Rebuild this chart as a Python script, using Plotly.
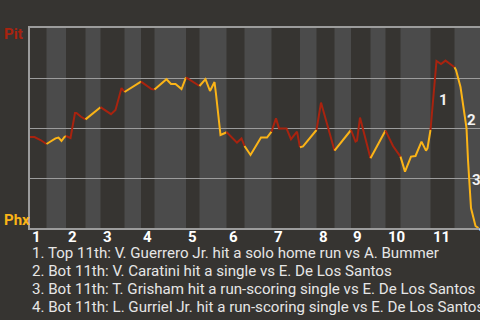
import plotly.graph_objects as go

# Pittsburgh win probability (%) after each pitch of the game
pitch = [0, 3, 7, 11, 17, 19, 21, 23, 24, 27, 30, 31, 34, 37, 42, 47, 54, 57, 61, 63,
         74, 81, 83, 91, 94, 97, 101, 104, 113, 117, 120, 123, 124, 126, 127, 130, 131,
         138, 141, 143, 147, 151, 154, 158, 161, 164, 166, 171, 174, 178, 180, 182, 191,
         194, 203, 214, 217, 218, 220, 227, 237, 242, 247, 248, 250, 254, 257, 261, 264,
         265, 267, 271, 274, 277, 281, 283, 284, 287, 289, 291, 292, 293, 294, 297, 299]
pit_wp = [45.5, 45.5, 44, 42, 44.8, 45.2, 43.5, 45.5, 46, 45, 57.5, 57.5, 55.6, 54.3, 57.3,
          60.4, 56.9, 59, 70, 68, 73.2, 69.5, 69.3, 74.4, 72, 72, 69.5, 75.3, 71, 74.4, 68.5,
          73, 67, 52.5, 46.5, 47.5, 48, 42.7, 44.8, 41, 36.5, 41.5, 45.2, 45.2, 48.2, 54.8,
          49.8, 49.8, 44.4, 48.2, 40.4, 40.8, 49, 62.7, 38.7, 49, 43.2, 43.7, 55.2, 34.9,
          48.7, 41, 35.7, 33.2, 28.2, 35.7, 36, 43.2, 38.7, 39.9, 49, 83.5, 82, 83.7, 81.5,
          80.4, 79, 70.5, 60, 50, 34, 22.5, 10, 1, 0]

# First pitch of each half-inning (top 1st, bottom 1st, ...), last entry = end of game
half_start = [0, 11, 24, 37, 47, 63, 74, 83, 104, 113, 131, 143, 161, 180, 191, 203,
              214, 227, 237, 247, 267, 283, 300]
innings = ["1", "2", "3", "4", "5", "6", "7", "8", "9", "10", "11"]

# Key plays: pitch where they happened and where their number sits
event_pitch = [271, 290, 293, 298]
event_wp = [64, 54, 24, 0]
event_text = [
    "1. Top 11th: V. Guerrero Jr. hit a solo home run vs A. Bummer",
    "2. Bot 11th: V. Caratini hit a single vs E. De Los Santos",
    "3. Bot 11th: T. Grisham hit a run-scoring single vs E. De Los Santos",
    "4. Bot 11th: L. Gurriel Jr. hit a run-scoring single vs E. De Los Santos",
]

teams = ["Pit", "Phx"]
RED = "#a8230f"
GOLD = "#fbb417"
BG = "#363431"
BAND = "#4b4b4b"
GRID = "#9c9c9c"
FONT = "Roboto"

fig = go.Figure()

# One line segment per half-inning, coloured by the batting team
for i in range(len(half_start) - 1):
    lo, hi = half_start[i], half_start[i + 1]
    xs = [p for p in pitch if lo <= p <= hi]
    ys = [w for p, w in zip(pitch, pit_wp) if lo <= p <= hi]
    fig.add_trace(go.Scatter(
        x=xs, y=ys, mode="lines",
        line=dict(color=RED if i % 2 == 0 else GOLD, width=2),
        hoverinfo="skip", showlegend=False,
    ))

# Lighter bands for the bottom halves
shapes = []
for i in range(1, len(half_start) - 1, 2):
    shapes.append(dict(
        type="rect", xref="x", yref="paper",
        x0=half_start[i], x1=half_start[i + 1], y0=0, y1=1,
        fillcolor=BAND, line=dict(width=0), layer="below",
    ))

annotations = []
# Inning numbers under the axis
for k, name in enumerate(innings):
    annotations.append(dict(
        x=half_start[2 * k], y=-0.045, xref="x", yref="paper",
        text=name, showarrow=False, xanchor="left", yanchor="middle",
        xshift=1, borderpad=0,
        font=dict(family=FONT, size=15, color="#ffffff", weight="bold"),
    ))

# Numbered markers for the key plays
for k, (px, wy) in enumerate(zip(event_pitch, event_wp)):
    annotations.append(dict(
        x=px, y=wy, xref="x", yref="y",
        text=str(k + 1), showarrow=False, xanchor="left", yanchor="middle",
        font=dict(family=FONT, size=15, color="#f2f2f2", weight="bold"),
    ))

# Team labels on the left
annotations.append(dict(
    x=0, y=0.97, xref="paper", yref="paper", xshift=-28,
    text=teams[0], showarrow=False, xanchor="left", yanchor="middle",
    font=dict(family=FONT, size=15, color=RED, weight="bold"),
))
annotations.append(dict(
    x=0, y=0.04, xref="paper", yref="paper", xshift=-28,
    text=teams[1], showarrow=False, xanchor="left", yanchor="middle",
    font=dict(family=FONT, size=15, color=GOLD, weight="bold"),
))

# Play descriptions below the chart
for k, line in enumerate(event_text):
    annotations.append(dict(
        x=0, y=-0.125 - 0.09 * k, xref="paper", yref="paper",
        text=line, showarrow=False, xanchor="left", yanchor="middle",
        xshift=1, borderpad=0,
        font=dict(family=FONT, size=15.1, color="#e6e6e6"),
    ))

fig.update_layout(
    width=480, height=320,
    margin=dict(l=30, r=0, t=28, b=92),
    paper_bgcolor=BG, plot_bgcolor=BG,
    shapes=shapes, annotations=annotations,
    xaxis=dict(range=[0, 300], showgrid=False, zeroline=False, showticklabels=False,
               showline=True, linecolor=GRID, linewidth=2, mirror=True, ticks=""),
    yaxis=dict(range=[0, 100], tickvals=[25, 50, 75], showgrid=True, gridcolor=GRID,
               gridwidth=1, zeroline=False, showticklabels=False,
               showline=True, linecolor=GRID, linewidth=2, ticks=""),
)

fig.write_html("out.html")
